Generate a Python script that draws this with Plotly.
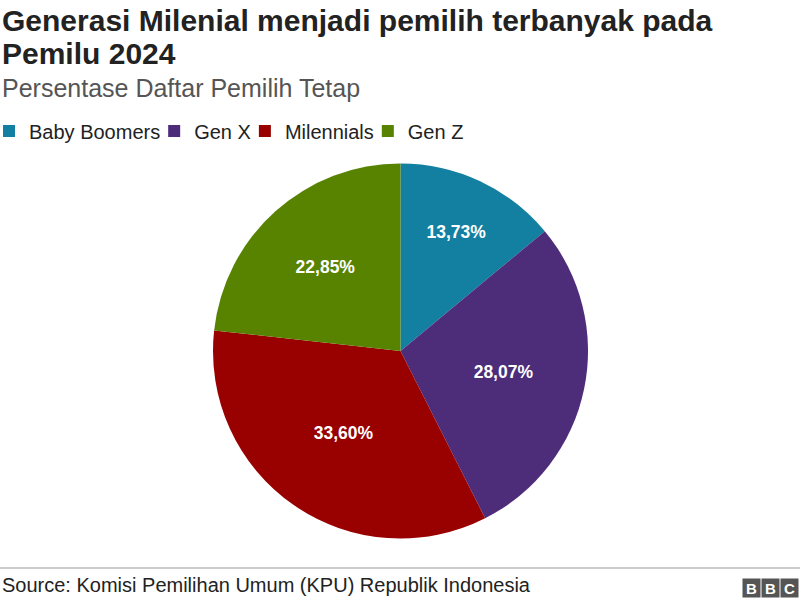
import plotly.graph_objects as go

labels = ['Baby Boomers', 'Gen X', 'Milennials', 'Gen Z']
values = [13.73, 28.07, 33.60, 22.85]
colors = ['#1380A1', '#4D2C7A', '#990000', '#588300']
text_labels = [f"<b>{v:.2f}%</b>".replace('.', ',') for v in values]

FONT = 'Liberation Sans, Arial, sans-serif'

fig = go.Figure()

fig.add_trace(go.Pie(
    labels=labels,
    values=values,
    text=text_labels,
    textinfo='text',
    textposition='inside',
    insidetextorientation='horizontal',
    textfont=dict(family=FONT, size=17.5, color='white'),
    marker=dict(colors=colors, line=dict(width=0)),
    sort=False,
    direction='clockwise',
    rotation=0,
    domain=dict(x=[0.26625, 0.735], y=[0.106, 0.73]),
    hovertemplate='<b>%{label}</b><br>%{text}<extra></extra>'
))

fig.update_layout(
    width=800,
    height=603,
    margin=dict(l=0, r=0, t=0, b=0, autoexpand=False),
    plot_bgcolor='white',
    paper_bgcolor='white',
    font=dict(family=FONT, size=17, color='#222222'),
    showlegend=True,
    legend=dict(
        orientation='h',
        x=0,
        xanchor='left',
        y=1 - 131 / 603,
        yanchor='middle',
        indentation=-11,
        font=dict(size=20, color='#222222'),
        itemclick=False,
    ),
    annotations=[
        dict(text='<b>Generasi Milenial menjadi pemilih terbanyak pada</b>',
             x=0, y=1 - 21 / 603, xref='paper', yref='paper', xanchor='left', yanchor='middle',
             align='left', showarrow=False,
             font=dict(family=FONT, size=30, color='#222222')),
        dict(text='<b>Pemilu 2024</b>',
             x=0, y=1 - 53 / 603, xref='paper', yref='paper', xanchor='left', yanchor='middle',
             align='left', showarrow=False,
             font=dict(family=FONT, size=30, color='#222222')),
        dict(text='Persentase Daftar Pemilih Tetap',
             x=0, y=1 - 88 / 603, xref='paper', yref='paper', xanchor='left', yanchor='middle',
             align='left', showarrow=False,
             font=dict(family=FONT, size=25, color='#555555')),
        dict(text='Source: Komisi Pemilihan Umum (KPU) Republik Indonesia',
             x=0, y=1 - 585 / 603, xref='paper', yref='paper', xanchor='left', yanchor='middle',
             align='left', showarrow=False,
             font=dict(family=FONT, size=20, color='#222222')),
    ],
    shapes=[
        dict(type='line', xref='paper', yref='paper', x0=0, x1=1,
             y0=1 - 568 / 603, y1=1 - 568 / 603, line=dict(color='#999999', width=1)),
    ],
)

# BBC blocks
for i, letter in enumerate('BBC'):
    cx = 751.5 + i * 19
    fig.add_annotation(text=f'<b>{letter}</b>', x=cx / 800, y=1 - 588 / 603,
                       xref='paper', yref='paper', showarrow=False,
                       xanchor='center', yanchor='middle',
                       width=17, height=18, bgcolor='#555555', borderpad=0,
                       font=dict(family=FONT, size=15, color='white'))

fig.write_html('out.html', config={'displayModeBar': False},
               post_script="document.body.style.margin='0';")
